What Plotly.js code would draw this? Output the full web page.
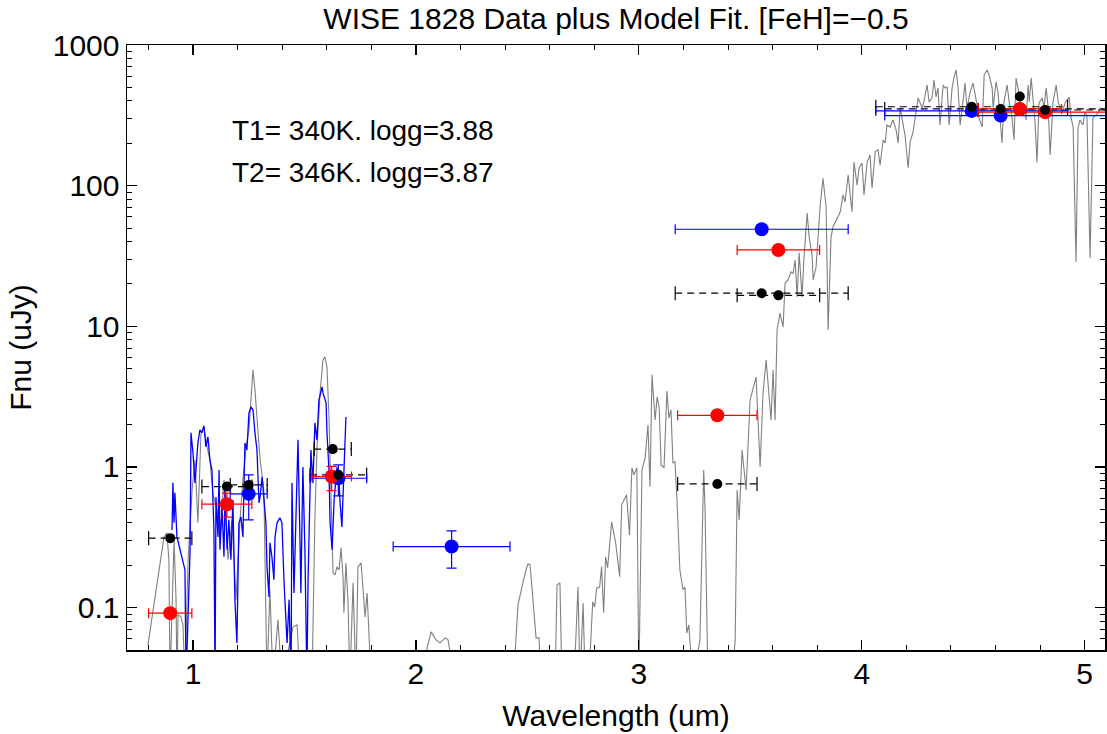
<!DOCTYPE html>
<html>
<head>
<meta charset="utf-8">
<script src="https://cdn.plot.ly/plotly-3.0.1.min.js"></script>
<style>html,body{margin:0;padding:0;background:#fff;}#chart{width:1107px;height:734px;}</style>
</head>
<body>
<div id="chart"></div>
<script>
// ---- Model spectrum (gray) ----
const modelWave = [0.798,0.843,0.870,0.883,0.892,0.897,0.906,0.915,0.924,0.928,0.933,0.946,0.955,0.964,0.978,0.996,1.009,1.022,1.036,1.049,1.063,1.076,1.090,1.103,1.121,1.139,1.157,1.175,1.193,1.211,1.224,1.238,1.251,1.260,1.269,1.278,1.292,1.301,1.318,1.332,1.345,1.359,1.381,1.399,1.449,1.467,1.480,1.534,1.547,1.556,1.570,1.583,1.592,1.601,1.610,1.619,1.623,1.628,1.637,1.646,1.655,1.664,1.673,1.677,1.686,1.695,1.704,1.718,1.731,1.740,1.754,1.763,1.772,1.781,1.790,1.799,1.929,2.041,2.068,2.090,2.108,2.131,2.144,2.157,2.175,2.332,2.444,2.458,2.471,2.480,2.494,2.503,2.512,2.525,2.539,2.552,2.561,2.624,2.633,2.646,2.655,2.714,2.727,2.736,2.750,2.759,2.781,2.793,2.802,2.811,2.824,2.833,2.842,2.851,2.860,2.878,2.896,2.914,2.923,2.945,2.958,2.969,2.978,2.991,3.000,3.014,3.028,3.041,3.050,3.059,3.073,3.082,3.091,3.100,3.113,3.126,3.135,3.144,3.153,3.162,3.171,3.184,3.198,3.207,3.215,3.224,3.242,3.274,3.291,3.297,3.310,3.418,3.432,3.441,3.450,3.463,3.481,3.499,3.512,3.526,3.544,3.557,3.571,3.593,3.602,3.611,3.620,3.633,3.647,3.656,3.669,3.683,3.692,3.701,3.710,3.719,3.732,3.741,3.755,3.764,3.777,3.782,3.795,3.813,3.826,3.840,3.849,3.862,3.871,3.885,3.903,3.916,3.925,3.939,3.956,3.965,3.979,3.988,4.001,4.010,4.024,4.037,4.046,4.060,4.073,4.082,4.096,4.105,4.113,4.127,4.140,4.154,4.163,4.172,4.185,4.194,4.208,4.217,4.230,4.244,4.253,4.271,4.280,4.293,4.302,4.315,4.324,4.333,4.342,4.351,4.365,4.374,4.383,4.392,4.405,4.414,4.423,4.432,4.441,4.454,4.463,4.472,4.486,4.499,4.508,4.517,4.526,4.540,4.549,4.562,4.571,4.585,4.589,4.602,4.611,4.620,4.629,4.638,4.652,4.661,4.674,4.683,4.692,4.701,4.715,4.728,4.737,4.746,4.751,4.760,4.769,4.777,4.786,4.795,4.809,4.818,4.827,4.836,4.845,4.858,4.872,4.881,4.898,4.912,4.930,4.939,4.948,4.961,4.970,4.979,4.992,5.001,5.010,5.024,5.037,5.051,5.060,5.069,5.087,5.114];
const modelFlux = [0.0544,0.171,0.318,0.340,0.219,0.03,0.114,0.303,0.114,0.03,0.089,0.086,0.0755,0.03,0.219,0.687,1.12,0.401,1.75,1.93,1.39,1.12,0.634,0.538,0.303,0.81,0.219,0.421,0.114,0.421,0.81,1.39,1.84,3.0,4.90,3.53,1.56,1.12,0.687,0.03,0.134,0.03,0.082,0.03,0.073,0.0755,0.03,0.03,0.442,1.32,3.36,5.77,6.07,5.14,2.27,0.687,0.401,0.177,0.171,0.195,0.185,0.266,0.166,0.092,0.208,0.114,0.03,0.150,0.03,0.195,0.208,0.127,0.086,0.127,0.059,0.03,0.03,0.045,0.0673,0.059,0.0562,0.061,0.059,0.045,0.03,0.03,0.045,0.105,0.134,0.150,0.186,0.205,0.202,0.119,0.061,0.061,0.03,0.03,0.145,0.150,0.03,0.045,0.141,0.03,0.108,0.03,0.045,0.11,0.101,0.138,0.140,0.195,0.092,0.230,0.192,0.407,0.289,0.166,0.538,0.634,0.329,0.986,0.879,0.986,0.03,0.953,1.16,1.99,0.723,4.52,2.16,3.15,2.67,1.03,0.986,3.47,2.23,2.55,1.07,1.09,0.583,0.186,0.134,0.140,0.066,0.0755,0.03,0.059,0.953,0.496,0.03,0.03,0.059,0.687,0.421,1.32,0.687,3.0,3.53,4.37,1.0,3.36,5.77,2.16,4.90,2.16,9.42,12.4,9.91,20.3,21.4,24.4,23.8,29.6,16.2,33.3,16.2,31.1,64.0,43.1,32.1,21.4,26.4,70.6,113,70.6,9.42,43.1,50.8,57.0,65.0,85.9,76.6,119,65.0,147,101,134,145,85.9,147,165,96.4,174,180,140,211,201,270,261,293,249,201,357,284,229,134,204,241,357,420,357,406,520,394,420,564,427,494,270,520,494,502,270,494,593,664,494,270,394,537,357,463,537,456,375,303,261,612,664,612,494,357,546,463,318,201,394,520,394,303,211,582,494,375,375,293,520,394,582,394,284,147,387,420,362,494,362,165,394,520,394,329,387,427,303,261,28.7,257,293,270,334,318,30.6,303,318,329,357,345,334];

// ---- Observed spectrum (blue) ----
const specWave = [0.906,0.910,0.915,0.919,0.928,0.942,0.964,0.969,0.987,0.991,1.000,1.009,1.022,1.031,1.040,1.049,1.058,1.067,1.076,1.085,1.090,1.094,1.099,1.103,1.112,1.117,1.121,1.130,1.139,1.144,1.153,1.161,1.170,1.179,1.188,1.197,1.206,1.215,1.224,1.233,1.242,1.251,1.260,1.269,1.278,1.287,1.296,1.301,1.310,1.318,1.327,1.332,1.341,1.345,1.354,1.363,1.368,1.377,1.390,1.399,1.408,1.422,1.431,1.440,1.444,1.453,1.462,1.471,1.480,1.484,1.493,1.502,1.511,1.516,1.529,1.538,1.547,1.556,1.565,1.579,1.583,1.597,1.601,1.610,1.615,1.624,1.633,1.637,1.646,1.655,1.659,1.668,1.677,1.686];
const specFlux = [0.357,0.771,0.401,0.655,0.318,0.258,0.186,0.03,0.258,1.75,1.26,0.771,1.48,1.84,1.75,1.96,1.39,1.64,1.12,0.953,0.612,0.357,0.03,0.612,0.318,0.953,0.258,0.520,0.230,0.687,0.258,0.421,0.219,0.583,0.114,0.056,0.401,0.442,0.318,1.48,1.32,2.42,2.67,2.55,1.75,1.32,0.556,0.612,0.851,0.556,0.401,0.195,0.119,0.289,0.230,0.158,0.318,0.401,0.435,0.401,0.158,0.056,0.114,0.03,0.771,0.127,0.421,1.56,0.303,0.127,1.0,0.258,0.03,0.150,1.32,0.771,2.06,1.56,3.0,3.71,3.36,2.86,1.75,0.953,0.401,0.258,0.583,0.687,1.0,0.81,0.583,0.375,0.851,2.27];

// ---- Photometry: red ----
const redWave  = [0.898,1.152,1.622,3.352,3.626,4.709,4.822];
const redFlux  = [0.0914,0.544,0.855,2.33,34.9,351,333];
const redXerr  = [0.097,0.112,0.089,0.178,0.185,0.187,0.30];
const redYerrP = [0,0.108,0.155,0,0,0,0];
const redYerrM = [0,0.104,0.175,0,0,0,0];

// ---- Photometry: blue ----
const bluWave  = [1.250,1.652,2.160,3.551,4.493,4.623];
const bluFlux  = [0.644,0.832,0.272,49.0,340,315];
const bluXerr  = [0.083,0.127,0.262,0.388,0.43,0.52];
const bluYerrP = [0.235,0.203,0.080,0,0,0];
const bluYerrM = [0.223,0.208,0.081,0,0,0];

// ---- Photometry: black (model synthetic) ----
const blkWave = [0.898,1.152,1.250,1.627,1.652,3.551,3.626,3.352,4.493,4.623,4.709,4.822];
const blkFlux = [0.312,0.726,0.746,1.34,0.879,17.2,16.6,0.758,364,351,430,345];
const blkXerr = [0.097,0.112,0.083,0.083,0.127,0.388,0.185,0.178,0.43,0.52,0,0.30];

const titleText = 'WISE 1828 Data plus Model Fit. [FeH]=\u22120.5';
const labelT1 = 'T1= 340K. logg=3.88';
const labelT2 = 'T2= 346K. logg=3.87';
const yTickVals = [0.1,1,10,100,1000];
const yTickText = ['0.1','1','10','100','1000'];

// build dashed error segments and caps for black points
const segX = [], segY = [], capX = [], capY = [];
blkWave.forEach((w,i)=>{
  if (blkXerr[i] <= 0) return;
  segX.push(w-blkXerr[i], w+blkXerr[i], null);
  segY.push(blkFlux[i], blkFlux[i], null);
  capX.push(w-blkXerr[i], w+blkXerr[i]);
  capY.push(blkFlux[i], blkFlux[i]);
});

const FONT = 'Liberation Sans, Arial, sans-serif';

const traces = [
  {x: modelWave, y: modelFlux, mode:'lines', line:{color:'#808080', width:1.1}, hoverinfo:'skip'},
  {x: specWave, y: specFlux, mode:'lines', line:{color:'#0000ff', width:1.3}, hoverinfo:'skip'},
  {x: segX, y: segY, mode:'lines', line:{color:'#000', width:1.2, dash:'7px,5px'}, connectgaps:false},
  {x: capX, y: capY, mode:'markers', marker:{symbol:'line-ns', size:10, line:{color:'#000', width:1.2}}},
  {x: bluWave, y: bluFlux, mode:'markers', marker:{color:'#0000ff', size:14},
   error_x:{type:'data', array: bluXerr, color:'#0000ff', thickness:1.2, width:5},
   error_y:{type:'data', symmetric:false, array: bluYerrP, arrayminus: bluYerrM, color:'#0000ff', thickness:1.2, width:5}},
  {x: redWave, y: redFlux, mode:'markers', marker:{color:'#ff0000', size:14},
   error_x:{type:'data', array: redXerr, color:'#ff0000', thickness:1.2, width:5},
   error_y:{type:'data', symmetric:false, array: redYerrP, arrayminus: redYerrM, color:'#ff0000', thickness:1.2, width:5}},
  {x: blkWave, y: blkFlux, mode:'markers', marker:{color:'#000', size:10}}
];

const layout = {
  width:1107, height:734,
  margin:{l:127, r:2, t:45, b:84},
  paper_bgcolor:'#fff', plot_bgcolor:'#fff',
  showlegend:false,
  font:{family:FONT, color:'#000'},
  title:{text: titleText, font:{size:30, family:FONT, color:'#000'}, x:0.5, xref:'paper', y:0.975, yref:'container', yanchor:'middle'},
  xaxis:{range:[0.704,5.091], tick0:0, dtick:1, ticks:'inside', ticklen:10, tickwidth:1.2, tickcolor:'#000',
    showline:true, linecolor:'#000', linewidth:1.5, mirror:'ticks', showgrid:false, zeroline:false,
    minor:{ticks:'inside', ticklen:5, tickwidth:1, tickcolor:'#000', dtick:0.2, tick0:0, showgrid:false},
    tickfont:{size:30, family:FONT, color:'#000'}, ticklabelstandoff:-4,
    title:{text:'Wavelength (um)', font:{size:30, family:FONT, color:'#000'}, standoff:16}},
  yaxis:{type:'log', range:[Math.log10(0.05),3], tickvals:yTickVals, ticktext:yTickText,
    ticks:'inside', ticklen:10, tickwidth:1.2, tickcolor:'#000',
    showline:true, linecolor:'#000', linewidth:1.5, mirror:'ticks', showgrid:false, zeroline:false,
    minor:{ticks:'inside', ticklen:5, tickwidth:1, tickcolor:'#000', dtick:'D1', showgrid:false},
    tickfont:{size:30, family:FONT, color:'#000'},
    title:{text:'Fnu (uJy)', font:{size:30, family:FONT, color:'#000'}, standoff:12}},
  annotations:[
    {text:labelT1, xref:'paper', yref:'paper', x:0.1053, y:0.8595, xanchor:'left', yanchor:'middle', showarrow:false, font:{size:28, family:FONT, color:'#000'}},
    {text:labelT2, xref:'paper', yref:'paper', x:0.1053, y:0.790, xanchor:'left', yanchor:'middle', showarrow:false, font:{size:28, family:FONT, color:'#000'}}
  ]
};

Plotly.newPlot('chart', traces, layout, {displayModeBar:false, staticPlot:true});
</script>
</body>
</html>
